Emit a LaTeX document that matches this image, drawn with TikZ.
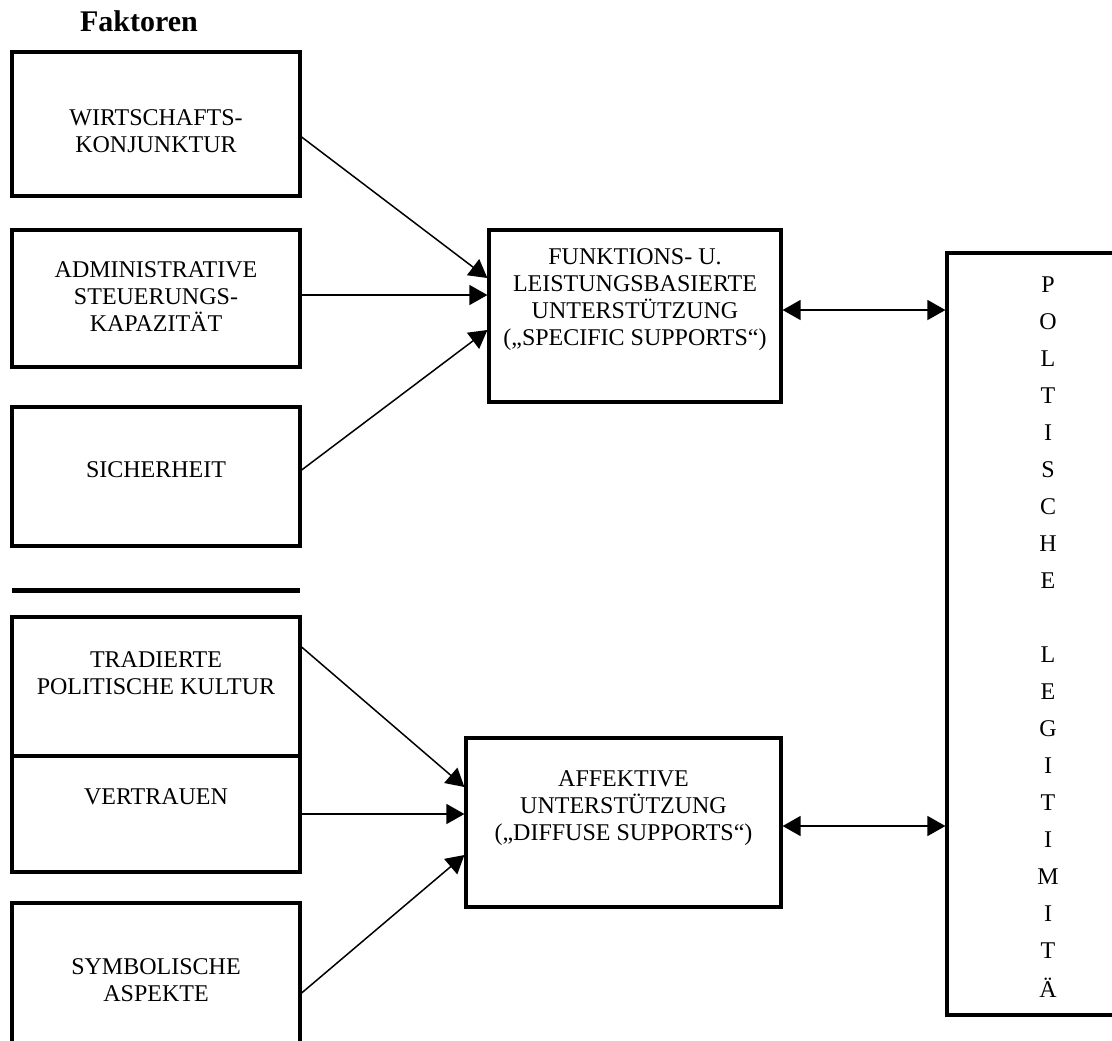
\documentclass[tikz,border=0pt]{standalone}
\usepackage{fontspec}
\setmainfont{Liberation Serif}
\usetikzlibrary{arrows.meta}
\begin{document}
\begin{tikzpicture}[x=0.5pt,y=-0.5pt,
    box/.style={draw,line width=1.6pt,inner sep=0pt},
    txt/.style={align=center,font=\fontsize{12}{13.5}\selectfont},
    pfeil/.style={line width=0.75pt,-{Triangle[length=9pt,width=10pt]}},
    doppel/.style={line width=0.75pt,{Triangle[length=9pt,width=10pt]}-{Triangle[length=9pt,width=10pt]}}]
    \useasboundingbox (0,0) rectangle (1112,1040);
    \clip (0,0) rectangle (1112,1040);
    \node[font=\fontsize{15}{17}\bfseries\selectfont] (titel) at (139,21) {Faktoren};
    \node[box,minimum width=144pt,minimum height=72pt] (wk) at (156,124) {};
    \node[txt] (wk-t) at ([yshift=-3.5pt]wk.center) {WIRTSCHAFTS-\\KONJUNKTUR};
    \node[box,minimum width=144pt,minimum height=68.5pt] (asc) at (156,298.5) {};
    \node[txt] (asc-t) at ([yshift=0.75pt]asc.center) {ADMINISTRATIVE\\STEUERUNGS-\\KAPAZITÄT};
    \node[box,minimum width=144pt,minimum height=69.5pt] (sich) at (156,476.5) {};
    \node[txt] (sich-t) at ([yshift=3.25pt]sich.center) {SICHERHEIT};
    \draw[line width=2.5pt] (12,590) -- (300,590);
    \node[box,minimum width=144pt,minimum height=69.5pt] (trad) at (156,686.5) {};
    \node[txt] (trad-t) at ([yshift=6.5pt]trad.center) {TRADIERTE\\POLITISCHE KULTUR};
    \node[box,minimum width=144pt,minimum height=58pt] (vert) at (156,814) {};
    \node[txt] (vert-t) at ([yshift=8.5pt]vert.center) {VERTRAUEN};
    \node[box,minimum width=144pt,minimum height=71pt] (symb) at (156,974) {};
    \node[txt] (symb-t) at ([yshift=-3pt]symb.center) {SYMBOLISCHE\\ASPEKTE};
    \node[box,minimum width=146pt,minimum height=86pt] (fl) at (635,316) {};
    \node[txt] (fl-t) at ([yshift=8pt]fl.center) {FUNKTIONS- U.\\LEISTUNGSBASIERTE\\UNTERSTÜTZUNG\\(„SPECIFIC SUPPORTS“)};
    \node[box,minimum width=157.5pt,minimum height=84.5pt] (aff) at (623.5,822.5) {};
    \node[txt] (aff-t) at ([yshift=7pt]aff.center) {AFFEKTIVE\\UNTERSTÜTZUNG\\(„DIFFUSE SUPPORTS“)};
    \node[box,minimum width=89pt,minimum height=381pt] (pl) at (1036,634) {};
    \foreach \z [count=\i from 0] in {P,O,L,T,I,S,C,H,E,{},L,E,G,I,T,I,M,I,T,Ä}
        \node[txt] (pl-\i) at (1048,{285+37*\i}) {\z};
    \draw[pfeil] ([yshift=-6.5pt]wk.east) -- ([yshift=19pt]fl.west);
    \draw[pfeil] ([yshift=1.75pt]asc.east) -- ([yshift=10.5pt]fl.west);
    \draw[pfeil] ([yshift=3.25pt]sich.east) -- ([yshift=-7pt]fl.west);
    \draw[pfeil] ([yshift=19.75pt]trad.east) -- ([yshift=17.75pt]aff.west);
    \draw[pfeil] (vert.east) -- ([yshift=4.25pt]aff.west);
    \draw[pfeil] ([yshift=-9.5pt]symb.east) -- ([yshift=-16.25pt]aff.west);
    \draw[doppel] ([yshift=3pt]fl.east) -- ([yshift=162pt]pl.west);
    \draw[doppel] ([yshift=-1.75pt]aff.east) -- ([yshift=-96pt]pl.west);
\end{tikzpicture}
\end{document}
